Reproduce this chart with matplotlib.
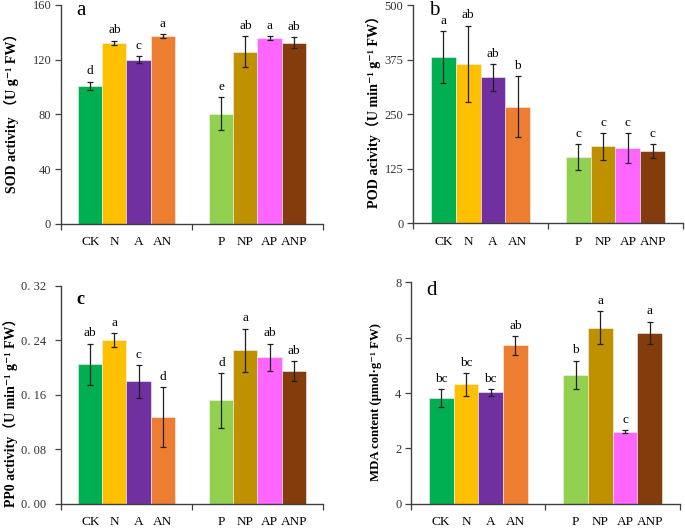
import matplotlib.pyplot as plt
import numpy as np

# treatments and colours (same order in all four panels)
groups = ["CK", "N", "A", "AN", "P", "NP", "AP", "ANP"]
colors = ["#00B050", "#FFC000", "#7030A0", "#ED7D31",
          "#92D050", "#BF9000", "#FF66FF", "#843C0C"]

sod_mean = [101, 132.5, 120, 137.5, 80.5, 126, 136, 132.5]
sod_err = [3, 1.5, 2.5, 1.5, 12, 11, 1.5, 4]
sod_sig = ["d", "ab", "c", "a", "e", "ab", "a", "ab"]

pod_mean = [381, 365, 334, 267, 152, 176, 172, 166]
pod_err = [60, 88, 30, 70, 29, 30, 35, 16]
pod_sig = ["a", "ab", "ab", "b", "c", "c", "c", "c"]

ppo_mean = [0.205, 0.240, 0.180, 0.127, 0.152, 0.225, 0.215, 0.195]
ppo_err = [0.030, 0.010, 0.024, 0.044, 0.040, 0.032, 0.020, 0.015]
ppo_sig = ["ab", "a", "c", "d", "d", "a", "ab", "ab"]

mda_mean = [3.81, 4.31, 4.02, 5.72, 4.65, 6.36, 2.60, 6.18]
mda_err = [0.32, 0.40, 0.12, 0.35, 0.52, 0.60, 0.05, 0.40]
mda_sig = ["bc", "bc", "bc", "ab", "b", "a", "c", "a"]

serif = ["Liberation Serif", "DejaVu Serif", "Noto Sans CJK SC"]
plt.rcParams["font.family"] = serif

fig = plt.figure(figsize=(6.85, 5.29), dpi=100)

w = 0.184
xpos = np.array([i - 1.5 * w + k * w for i in (0, 1) for k in range(4)])


def panel(rect, mean, err, sig, yticks, ytlabels, ylabel, ylsize, lab_xy,
          letter, letter_y, letter_size=15, letter_bold=False, ypad=3):
    ax = fig.add_axes(rect)
    ax.bar(xpos, mean, width=w, color=colors, edgecolor="#f4f4f4", linewidth=0.4)
    ax.errorbar(xpos, mean, yerr=err, fmt="none", ecolor="#202020",
                elinewidth=0.9, capsize=2.5, capthick=0.9)
    for x, m, e, s in zip(xpos, mean, err, sig):
        ax.annotate(s, (x, m + e), xytext=(0, 3), textcoords="offset points",
                    ha="center", va="bottom", fontsize=9.5)
    ax.set_xlim(-0.5, 1.5)
    ax.set_ylim(yticks[0], yticks[-1])
    ax.set_yticks(yticks)
    ax.set_yticklabels(ytlabels, fontsize=9, color="#333333")
    ax.set_xticks(xpos)
    ax.set_xticklabels(groups, fontsize=9.5)
    ax.set_xticks([-0.5, 0.5, 1.5], minor=True)
    ax.tick_params(axis="x", which="major", length=0, pad=9)
    ax.tick_params(axis="x", which="minor", length=4, width=0.9,
                   direction="out", color="#404040")
    ax.tick_params(axis="y", length=4, width=0.9, direction="out",
                   color="#404040", pad=ypad)
    for sp in ("top", "right"):
        ax.spines[sp].set_visible(False)
    for sp in ("left", "bottom"):
        ax.spines[sp].set_color("#404040")
        ax.spines[sp].set_linewidth(1.0)
    ax.set_ylabel(ylabel, fontsize=ylsize, fontweight="bold")
    ax.yaxis.set_label_coords(*lab_xy)
    ax.text(0.058, letter_y, letter, transform=ax.transAxes,
            fontsize=letter_size,
            fontweight="bold" if letter_bold else "normal",
            ha="left", va="baseline")
    return ax


panel([0.089, 0.5766, 0.3825, 0.414], sod_mean, sod_err, sod_sig,
      [0, 40, 80, 120, 160], ["0", "40", "80", "120", "160"],
      "SOD activity （U g⁻¹ FW）", 10.1, (-0.160, 0.52), "a", 0.954)

panel([0.603, 0.578, 0.394, 0.4125], pod_mean, pod_err, pod_sig,
      [0, 125, 250, 375, 500], ["0", "125", "250", "375", "500"],
      "POD acivity（U min⁻¹ g⁻¹ FW）", 10.2, (-0.118, 0.527), "b", 0.954)

panel([0.089, 0.0473, 0.3825, 0.4127], ppo_mean, ppo_err, ppo_sig,
      [0, 0.08, 0.16, 0.24, 0.32], ["0. 00", "0. 08", "0. 16", "0. 24", "0. 32"],
      "PP0 activity（U min⁻¹ g⁻¹ FW）", 10.0, (-0.165, 0.435), "c", 0.917,
      letter_size=13, letter_bold=True, ypad=6.5)

panel([0.600, 0.0478, 0.3927, 0.4185], mda_mean, mda_err, mda_sig,
      [0, 2, 4, 6, 8], ["0", "2", "4", "6", "8"],
      "MDA content (μmol·g⁻¹ FW)", 9.2, (-0.108, 0.458), "d", 0.944)

fig.savefig("out.png", dpi=100)
